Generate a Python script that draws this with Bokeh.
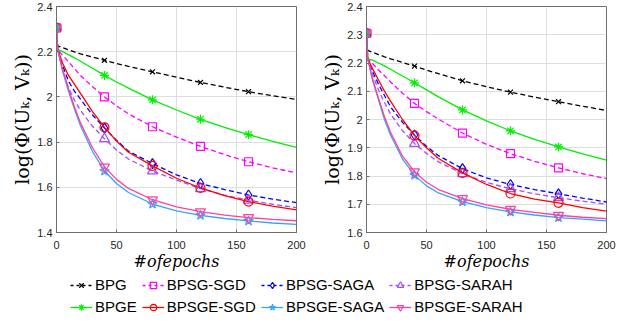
from bokeh.plotting import figure
from bokeh.models import Range1d, FixedTicker, Legend, LegendItem, ColumnDataSource
from bokeh.layouts import column, row
from bokeh.embed import file_html
from bokeh.resources import INLINE

# ---------------- data ----------------
epochs = [0, 1, 5, 10, 15, 20, 30, 40, 50, 60, 80, 100, 120, 140, 160, 180, 200]
marker_epochs = [0, 40, 80, 120, 160]

names = ["BPG", "BPSG-SGD", "BPSG-SAGA", "BPSG-SARAH",
         "BPGE", "BPSGE-SGD", "BPSGE-SAGA", "BPSGE-SARAH"]

# left panel
left_BPG = [2.305, 2.225, 2.218, 2.208, 2.199, 2.190, 2.176, 2.162, 2.148, 2.135, 2.111, 2.087, 2.064, 2.043, 2.023, 2.005, 1.989]
left_BPSG_SGD = [2.305, 2.210, 2.185, 2.155, 2.125, 2.095, 2.045, 2.000, 1.960, 1.925, 1.868, 1.822, 1.781, 1.745, 1.713, 1.686, 1.664]
left_BPSG_SAGA = [2.305, 2.210, 2.140, 2.070, 2.025, 1.990, 1.920, 1.862, 1.808, 1.760, 1.705, 1.655, 1.617, 1.590, 1.566, 1.548, 1.532]
left_BPSG_SARAH = [2.305, 2.210, 2.120, 2.040, 1.985, 1.940, 1.870, 1.815, 1.765, 1.725, 1.672, 1.632, 1.594, 1.565, 1.543, 1.525, 1.510]
left_BPGE = [2.305, 2.210, 2.200, 2.187, 2.173, 2.158, 2.127, 2.095, 2.066, 2.039, 1.987, 1.942, 1.901, 1.865, 1.833, 1.803, 1.777]
left_BPSGE_SGD = [2.305, 2.210, 2.150, 2.095, 2.055, 2.016, 1.935, 1.865, 1.805, 1.755, 1.695, 1.640, 1.597, 1.563, 1.537, 1.517, 1.500]
left_BPSGE_SAGA = [2.305, 2.210, 2.115, 2.025, 1.945, 1.872, 1.758, 1.672, 1.617, 1.577, 1.526, 1.496, 1.476, 1.462, 1.451, 1.442, 1.436]
left_BPSGE_SARAH = [2.305, 2.210, 2.125, 2.035, 1.955, 1.885, 1.775, 1.690, 1.635, 1.595, 1.545, 1.513, 1.492, 1.477, 1.466, 1.458, 1.452]

# right panel
right_BPG = [2.305, 2.245, 2.238, 2.230, 2.222, 2.215, 2.202, 2.189, 2.175, 2.162, 2.137, 2.116, 2.097, 2.079, 2.063, 2.047, 2.032]
right_BPSG_SGD = [2.305, 2.215, 2.198, 2.175, 2.155, 2.133, 2.093, 2.057, 2.028, 2.001, 1.952, 1.912, 1.879, 1.852, 1.829, 1.808, 1.791]
right_BPSG_SAGA = [2.305, 2.215, 2.170, 2.125, 2.085, 2.045, 1.990, 1.945, 1.905, 1.872, 1.826, 1.793, 1.770, 1.752, 1.737, 1.722, 1.708]
right_BPSG_SARAH = [2.305, 2.215, 2.160, 2.105, 2.060, 2.020, 1.960, 1.915, 1.880, 1.850, 1.808, 1.777, 1.755, 1.737, 1.723, 1.711, 1.700]
right_BPGE = [2.305, 2.215, 2.210, 2.200, 2.190, 2.178, 2.154, 2.130, 2.105, 2.080, 2.034, 1.995, 1.960, 1.930, 1.903, 1.878, 1.856]
right_BPSGE_SGD = [2.305, 2.215, 2.180, 2.140, 2.100, 2.065, 2.000, 1.943, 1.900, 1.862, 1.811, 1.770, 1.738, 1.718, 1.705, 1.688, 1.676]
right_BPSGE_SAGA = [2.305, 2.215, 2.140, 2.070, 2.000, 1.945, 1.860, 1.803, 1.765, 1.740, 1.709, 1.688, 1.673, 1.662, 1.653, 1.647, 1.641]
right_BPSGE_SARAH = [2.305, 2.215, 2.145, 2.075, 2.010, 1.955, 1.870, 1.815, 1.778, 1.752, 1.720, 1.698, 1.682, 1.671, 1.661, 1.654, 1.649]

left_series = [left_BPG, left_BPSG_SGD, left_BPSG_SAGA, left_BPSG_SARAH,
               left_BPGE, left_BPSGE_SGD, left_BPSGE_SAGA, left_BPSGE_SARAH]
right_series = [right_BPG, right_BPSG_SGD, right_BPSG_SAGA, right_BPSG_SARAH,
                right_BPGE, right_BPSGE_SGD, right_BPSGE_SAGA, right_BPSGE_SARAH]

x_ticks = [0, 50, 100, 150, 200]
left_y_ticks = [1.4, 1.6, 1.8, 2.0, 2.2, 2.4]
left_y_labels = ["1.4", "1.6", "1.8", "2", "2.2", "2.4"]
right_y_ticks = [1.6, 1.7, 1.8, 1.9, 2.0, 2.1, 2.2, 2.3, 2.4]
right_y_labels = ["1.6", "1.7", "1.8", "1.9", "2", "2.1", "2.2", "2.3", "2.4"]

# ---------------- styles ----------------
colors = ["#000000", "#ff00ff", "#0000ff", "#a64dff",
          "#00ee00", "#ff0000", "#33a3ff", "#ff3fa5"]
dashes = ["dashed", "dashed", "dashed", "dashed", "solid", "solid", "solid", "solid"]
markers = ["x", "square", "diamond", "triangle",
           "asterisk", "circle", "star", "inverted_triangle"]
msizes = [7, 8, 10, 10, 9, 9, 10, 10]
DASH = "5 3"
AXC = "#6e6e6e"
TXT = "#262626"
NAN = float("nan")


def make_fig(series, y_ticks, y_labels, width, border_left, border_right):
    p = figure(width=width, height=273, x_range=Range1d(0, 200),
               y_range=Range1d(y_ticks[0], y_ticks[-1]),
               output_backend="svg", toolbar_location=None,
               min_border_left=border_left, min_border_right=border_right,
               min_border_top=6, min_border_bottom=40)
    p.outline_line_color = AXC
    p.outline_line_width = 1
    p.background_fill_color = "white"
    p.border_fill_color = "white"
    p.grid.grid_line_color = "#dedede"
    p.grid.grid_line_width = 1

    p.xaxis.ticker = FixedTicker(ticks=x_ticks)
    p.yaxis.ticker = FixedTicker(ticks=y_ticks)
    p.yaxis.major_label_overrides = dict(zip(y_ticks, y_labels))
    for ax in (p.xaxis, p.yaxis):
        ax.axis_line_color = AXC
        ax.major_tick_line_color = AXC
        ax.major_tick_in = 3
        ax.major_tick_out = 0
        ax.minor_tick_line_color = None
        ax.major_label_text_font = "Liberation Sans"
        ax.major_label_text_font_size = "11px"
        ax.major_label_text_color = TXT
        ax.axis_label_text_font = "DejaVu Serif"
        ax.axis_label_text_color = "#000000"
    p.xaxis.axis_label_text_font_size = "16px"
    p.xaxis.axis_label_text_font_style = "italic"
    p.yaxis.axis_label_text_font_size = "19px"
    p.yaxis.axis_label_text_font_style = "normal"
    p.xaxis.major_label_standoff = 8
    p.xaxis.axis_label_standoff = 0
    p.yaxis.major_label_standoff = 4
    p.yaxis.axis_label_standoff = 1
    p.xaxis.axis_label = "#ofepochs"
    p.yaxis.axis_label = "log(Φ(Uₖ, Vₖ))"

    for s, c, d, m, ms in zip(series, colors, dashes, markers, msizes):
        src = ColumnDataSource(dict(x=epochs, y=s))
        mk = ColumnDataSource(dict(x=[e for e in epochs if e in marker_epochs],
                                   y=[v for e, v in zip(epochs, s) if e in marker_epochs]))
        p.line("x", "y", source=src, line_color=c, line_width=1.3,
               line_dash=DASH if d == "dashed" else "solid")
        p.scatter("x", "y", source=mk, marker=m, size=ms, line_color=c,
                  line_width=1.2, fill_alpha=0)
    return p


p1 = make_fig(left_series, left_y_ticks, left_y_labels, 318, 56, 22)
p2 = make_fig(right_series, right_y_ticks, right_y_labels, 312, 48, 24)

# legend figure
lg = figure(width=630, height=54, x_range=Range1d(0, 1), y_range=Range1d(0, 1),
            output_backend="svg", toolbar_location=None,
            min_border_left=0, min_border_right=0, min_border_top=0, min_border_bottom=0)
lg.axis.visible = False
lg.grid.visible = False
lg.outline_line_color = None
items = []
for name, c, d, m, ms in zip(names, colors, dashes, markers, msizes):
    r1 = lg.line(x=[NAN], y=[NAN], line_color=c, line_width=1.3,
                 line_dash="3 3" if d == "dashed" else "solid")
    r2 = lg.scatter(x=[NAN], y=[NAN], marker=m, size=ms - 2, line_color=c,
                    line_width=1.2, fill_alpha=0)
    items.append(LegendItem(label=name, renderers=[r1, r2]))
legend = Legend(items=items, orientation="horizontal", ncols=4,
                location=(70, 12), border_line_color=None,
                background_fill_alpha=0, padding=0, margin=0, spacing=5,
                label_standoff=3, glyph_width=22, glyph_height=16,
                label_height=16, label_text_font="Liberation Sans",
                label_text_font_size="15px", label_text_color="#000000")
lg.add_layout(legend)

layout = column(row(p1, p2), lg)

with open("out.html", "w") as f:
    f.write(file_html(layout, INLINE))
